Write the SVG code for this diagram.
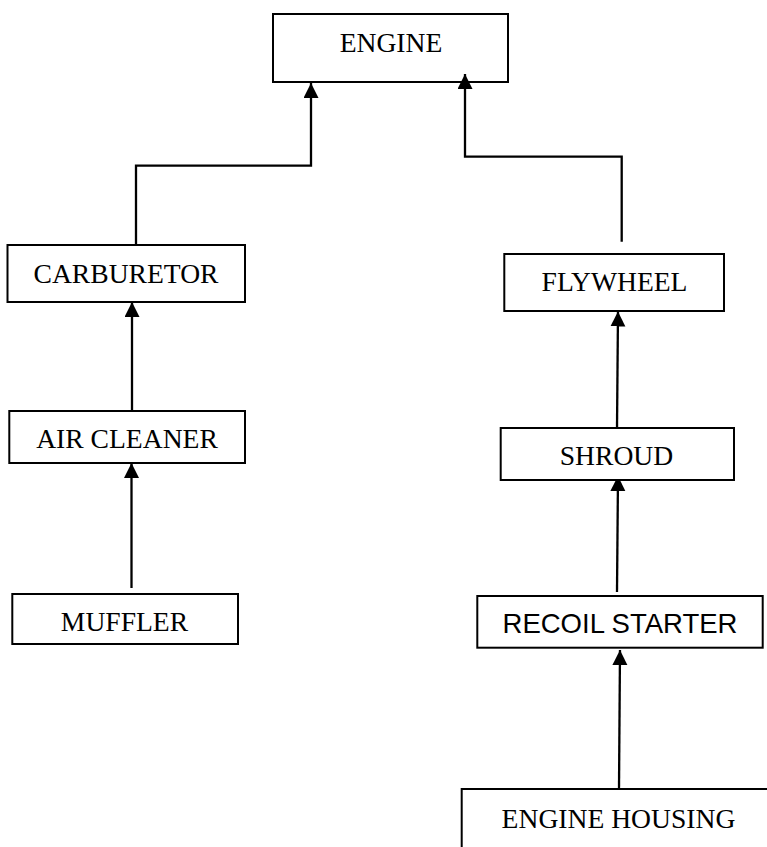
<svg xmlns="http://www.w3.org/2000/svg" width="767" height="847" viewBox="0 0 767 847">
<style>
.box{fill:#fff;stroke:#000;stroke-width:2}
.t{font-family:"Liberation Serif","Times New Roman",serif;font-size:27.6px;fill:#000;text-anchor:middle}
.s{font-family:"Liberation Sans",Arial,sans-serif;font-size:27.5px;fill:#000;text-anchor:middle}
.c{fill:none;stroke:#000;stroke-width:2.3}
</style>
<defs>
<marker id="ah" markerUnits="userSpaceOnUse" markerWidth="16" markerHeight="16" refX="15" refY="7.5" orient="auto">
<path d="M0,0 L15,7.5 L0,15 Z" fill="#000"/>
</marker>
</defs>
<rect width="767" height="847" fill="#fff"/>
<g id="connectors">
<polyline class="c" points="136,250 136,165.7 311,165.7 311,83" marker-end="url(#ah)"/>
<polyline class="c" points="621.7,241.7 621.7,156.7 465,156.7 465,74" marker-end="url(#ah)"/>
<line class="c" x1="132" y1="411" x2="132" y2="302" marker-end="url(#ah)"/>
<line class="c" x1="131.5" y1="588" x2="131.5" y2="463" marker-end="url(#ah)"/>
<line class="c" x1="617" y1="428" x2="618" y2="311.5" marker-end="url(#ah)"/>
<line class="c" x1="617" y1="592" x2="618" y2="476" marker-end="url(#ah)"/>
<line class="c" x1="619" y1="789" x2="620" y2="650" marker-end="url(#ah)"/>
</g>
<g id="engine">
<rect class="box" x="273" y="14" width="235" height="68" fill-opacity="0"/>
<text class="t" x="391" y="52">ENGINE</text>
</g>
<g id="carburetor">
<rect class="box" x="7.5" y="245" width="237.5" height="57"/>
<text class="t" x="126" y="282.7">CARBURETOR</text>
</g>
<g id="flywheel">
<rect class="box" x="504.3" y="254" width="219.7" height="57"/>
<text class="t" x="614.5" y="291">FLYWHEEL</text>
</g>
<g id="air-cleaner">
<rect class="box" x="9.3" y="411" width="235.7" height="52"/>
<text class="t" x="127" y="448">AIR CLEANER</text>
</g>
<g id="shroud">
<rect class="box" x="500.7" y="428" width="233.3" height="52"/>
<text class="t" x="616.5" y="465">SHROUD</text>
</g>
<g id="muffler">
<rect class="box" x="12.3" y="594" width="225.7" height="50"/>
<text class="t" x="124.5" y="630.7">MUFFLER</text>
</g>
<g id="recoil-starter">
<rect class="box" x="477.3" y="596" width="285.4" height="51.7"/>
<text class="s" x="620" y="632.7" textLength="235" lengthAdjust="spacingAndGlyphs">RECOIL STARTER</text>
</g>
<g id="engine-housing">
<rect class="box" x="461.7" y="789" width="320" height="80"/>
<text class="t" x="618.5" y="827.7">ENGINE HOUSING</text>
</g>
</svg>
